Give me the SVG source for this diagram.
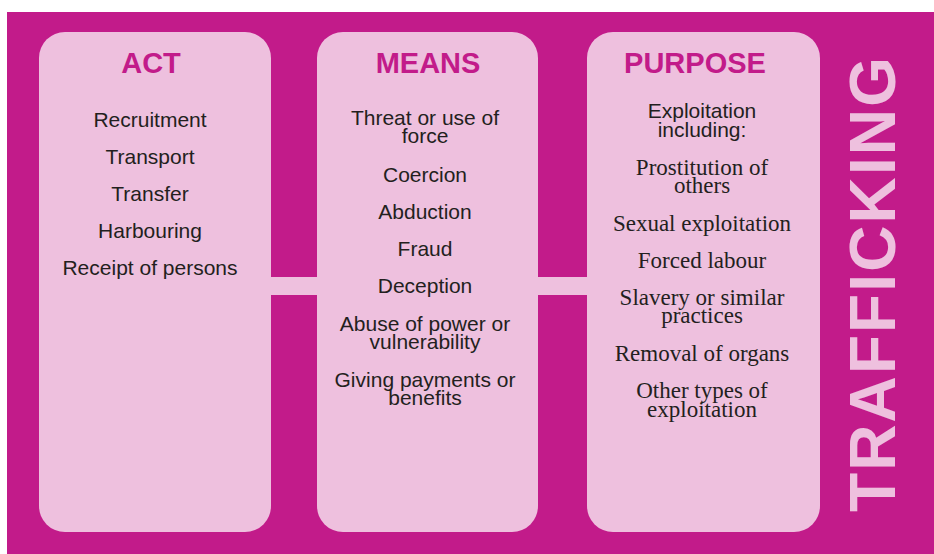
<svg xmlns="http://www.w3.org/2000/svg" width="934" height="554" viewBox="0 0 934 554">
<style>
.bg{fill:#C21B8A}
.box{fill:#EEC0DE}
.hd{font-family:"Liberation Sans",Arial,sans-serif;font-weight:bold;font-size:29px;fill:#C21B8A;text-anchor:middle}
.t{font-family:"Liberation Sans",Arial,sans-serif;font-size:21px;fill:#231F20;text-anchor:middle}
.s{font-family:"Liberation Serif","Times New Roman",serif;font-size:23px;fill:#231F20;text-anchor:middle}
.big{font-family:"Liberation Sans",Arial,sans-serif;font-weight:bold;font-size:64px;fill:#EEC0DE}
</style>
<rect class="bg" x="7" y="12" width="927" height="542"/>
<g id="connectors">
<rect class="box" x="265" y="277" width="60" height="18"/>
<rect class="box" x="532" y="277" width="62" height="18"/>
</g>
<g id="act">
<rect class="box" x="39" y="32" width="232" height="500" rx="26"/>
<text class="hd" x="151" y="73">ACT</text>
<text class="t" x="150" y="127">Recruitment</text>
<text class="t" x="150" y="164">Transport</text>
<text class="t" x="150" y="201">Transfer</text>
<text class="t" x="150" y="238">Harbouring</text>
<text class="t" x="150" y="275">Receipt of persons</text>
</g>
<g id="means">
<rect class="box" x="317" y="32" width="221" height="500" rx="26"/>
<text class="hd" x="428" y="73">MEANS</text>
<text class="t" x="425" y="125">Threat or use of</text>
<text class="t" x="425" y="143">force</text>
<text class="t" x="425" y="182">Coercion</text>
<text class="t" x="425" y="219">Abduction</text>
<text class="t" x="425" y="256">Fraud</text>
<text class="t" x="425" y="293">Deception</text>
<text class="t" x="425" y="331">Abuse of power or</text>
<text class="t" x="425" y="349">vulnerability</text>
<text class="t" x="425" y="387">Giving payments or</text>
<text class="t" x="425" y="405">benefits</text>
</g>
<g id="purpose">
<rect class="box" x="587" y="32" width="233" height="500" rx="26"/>
<text class="hd" x="695" y="73">PURPOSE</text>
<text class="t" x="702" y="118">Exploitation</text>
<text class="t" x="702" y="137">including:</text>
<text class="s" x="702" y="175">Prostitution of</text>
<text class="s" x="702" y="193">others</text>
<text class="s" x="702" y="231">Sexual exploitation</text>
<text class="s" x="702" y="268">Forced labour</text>
<text class="s" x="702" y="305">Slavery or similar</text>
<text class="s" x="702" y="323">practices</text>
<text class="s" x="702" y="361">Removal of organs</text>
<text class="s" x="702" y="398">Other types of</text>
<text class="s" x="702" y="417">exploitation</text>
</g>
<g id="trafficking">
<text class="big" transform="translate(895,512) rotate(-90)" x="0" y="0" textLength="455" lengthAdjust="spacing">TRAFFICKING</text>
</g>
</svg>
